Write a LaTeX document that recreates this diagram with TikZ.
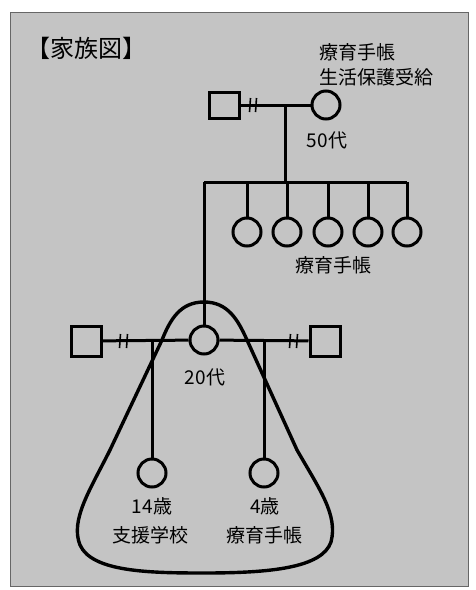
\documentclass[tikz,border=0pt]{standalone}
\usepackage{fontspec}
\setmainfont{Noto Sans CJK JP}
\usepackage{tikz}
\definecolor{paper}{RGB}{196,196,196}

\begin{document}
\begin{tikzpicture}[x=1pt, y=-1pt, line width=3pt,
        female/.style={draw, circle, minimum size=28pt, inner sep=0pt},
        male/.style={draw, rectangle, minimum width=30pt, minimum height=26pt, inner sep=0pt},
        note/.style={font=\fontsize{19}{21}\selectfont, inner sep=0pt},
        split/.style={line width=1.6pt}]
        \useasboundingbox (0,0) rectangle (475,590);
        \fill[white] (0,0) rectangle (475,590);
        \filldraw[fill=paper, draw=black!60, line width=0.6pt] (10,12) rectangle (468,586);
        \node[font=\fontsize{24}{26}\selectfont, inner sep=0pt] (title) at (87,48) {【家族図】};
        % grandparents
        \node[male] (gf) at (224,105) {};
        \node[female] (gm) at (326,105) {};
        \coordinate (gj) at (285,105);
        \coordinate (sibl) at (204,182);
        \coordinate (sibr) at (407,182);
        \node[note, anchor=west] (gmnote1) at (318,52) {療育手帳};
        \node[note, anchor=west] (gmnote2) at (318,77) {生活保護受給};
        \node[note] (gmage) at (327,140) {50代};
        % siblings
        \node[female] (s1) at (247,232) {};
        \node[female] (s2) at (287,232) {};
        \node[female] (s3) at (328,232) {};
        \node[female] (s4) at (368,232) {};
        \node[female] (s5) at (407,232) {};
        \node[note] (signote) at (333,265) {療育手帳};
        % mother and partners
        \node[female] (me) at (204,340) {};
        \node[male, minimum height=30pt] (lp) at (86,341) {};
        \node[male, minimum height=30pt] (rp) at (325,341) {};
        \node[note] (meage) at (205,377) {20代};
        \coordinate (lj) at (152,341);
        \coordinate (rj) at (264,341);
        % children
        \node[female] (k1) at (152,473) {};
        \node[female] (k2) at (264,473) {};
        \node[note] (k1age) at (152,506) {14歳};
        \node[note] (k1note) at (150,535) {支援学校};
        \node[note] (k2age) at (265,506) {4歳};
        \node[note] (k2note) at (264,535) {療育手帳};

        \draw (gf) -- (gm);
        \draw (gj) -- (sibl -| gj);
        \draw (sibl) -- (sibr);
        \foreach \s in {s1,s2,s3,s4} \draw (sibl -| \s) -- (\s);
        \draw (sibr) -- (s5);
        \draw (sibl) -- (me);
        \draw (lp) -- (me);
        \draw (me) -- (rp);
        \draw (lj) -- (k1);
        \draw (rj) -- (k2);
        % separation marks
        \foreach \x/\y in {250/105, 256/105, 120/341, 127/341, 290/341, 297/341}
          \draw[split] (\x+0.5,\y-7) -- (\x-0.5,\y+7);
        % household
        \draw[line width=3.4pt] (204,302) .. controls (180,302) and (170,320) .. (162,340)
          -- (110,450) .. controls (90,490) and (70,520) .. (80,545)
          .. controls (92,572) and (150,573) .. (204,573)
          .. controls (270,573) and (322,568) .. (331,542)
          .. controls (338,515) and (320,490) .. (297,450)
          -- (247,340) .. controls (238,320) and (228,302) .. cycle;
\end{tikzpicture}
\end{document}
